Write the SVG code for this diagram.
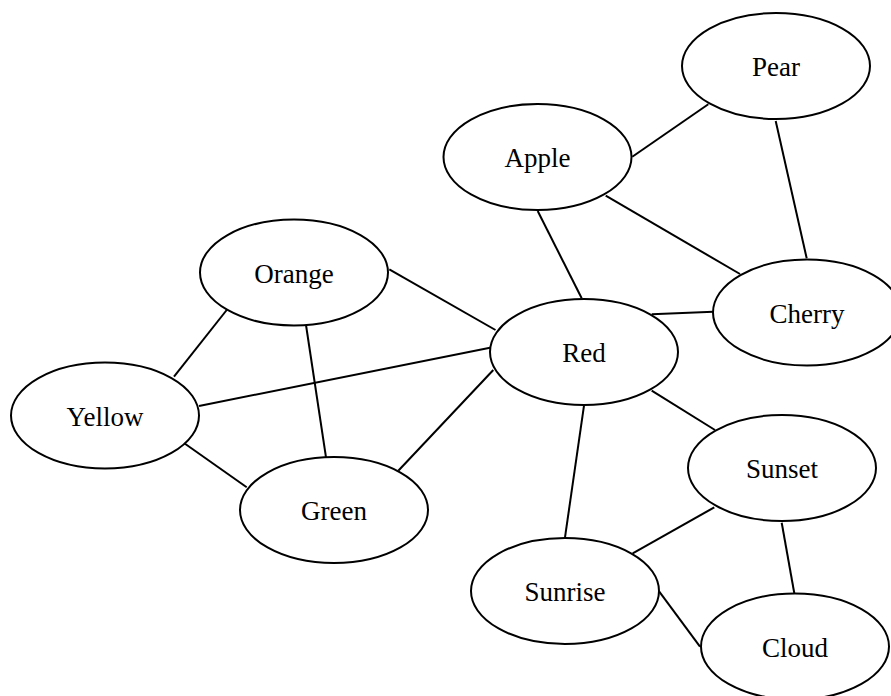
<svg xmlns="http://www.w3.org/2000/svg" width="891" height="696" viewBox="0 0 891 696">
  <style>
    .node ellipse { fill: none; stroke: #000; stroke-width: 2; }
    .node text { font-family: "Liberation Serif", "Times New Roman", serif; font-size: 27px; text-anchor: middle; fill: #000; }
    #edges line { stroke: #000; stroke-width: 2; }
  </style>
  <rect width="891" height="696" fill="#fff"/>
  <g id="edges">
    <line x1="708.3" y1="104.3" x2="632.3" y2="156.7"/>
    <line x1="775.7" y1="121" x2="806.7" y2="258.3"/>
    <line x1="537.7" y1="211" x2="581.7" y2="298.3"/>
    <line x1="605.7" y1="195.7" x2="740" y2="274"/>
    <line x1="651.7" y1="314.3" x2="713.3" y2="311.7"/>
    <line x1="389.3" y1="269.3" x2="495.5" y2="330"/>
    <line x1="226.7" y1="310" x2="174" y2="376.7"/>
    <line x1="306" y1="325" x2="326" y2="457.3"/>
    <line x1="199" y1="406" x2="490" y2="347.7"/>
    <line x1="184.3" y1="443.3" x2="246.7" y2="487.3"/>
    <line x1="398.3" y1="470.7" x2="493.3" y2="370"/>
    <line x1="651.7" y1="390.7" x2="715" y2="430"/>
    <line x1="584" y1="405.7" x2="565" y2="537.3"/>
    <line x1="714.3" y1="507.3" x2="632.7" y2="553.3"/>
    <line x1="781.7" y1="522.7" x2="794.3" y2="593.3"/>
    <line x1="659.3" y1="591.7" x2="700" y2="646.7"/>
  </g>
  <g id="pear" class="node"><ellipse cx="776" cy="66" rx="94" ry="53"/><text x="776" y="76">Pear</text></g>
  <g id="apple" class="node"><ellipse cx="537.5" cy="157" rx="94" ry="53"/><text x="537.5" y="167">Apple</text></g>
  <g id="orange" class="node"><ellipse cx="294" cy="272.5" rx="94" ry="53"/><text x="294" y="282.5">Orange</text></g>
  <g id="yellow" class="node"><ellipse cx="105" cy="415.5" rx="94" ry="53"/><text x="105" y="425.5">Yellow</text></g>
  <g id="green" class="node"><ellipse cx="334" cy="510" rx="94" ry="53"/><text x="334" y="520">Green</text></g>
  <g id="red" class="node"><ellipse cx="584" cy="352" rx="94" ry="53"/><text x="584" y="362">Red</text></g>
  <g id="cherry" class="node"><ellipse cx="807" cy="312.5" rx="94" ry="53"/><text x="807" y="322.5">Cherry</text></g>
  <g id="sunset" class="node"><ellipse cx="782" cy="468" rx="94" ry="53"/><text x="782" y="478">Sunset</text></g>
  <g id="sunrise" class="node"><ellipse cx="565" cy="591" rx="94" ry="53"/><text x="565" y="601">Sunrise</text></g>
  <g id="cloud" class="node"><ellipse cx="795" cy="646.5" rx="94" ry="53"/><text x="795" y="656.5">Cloud</text></g>
</svg>
